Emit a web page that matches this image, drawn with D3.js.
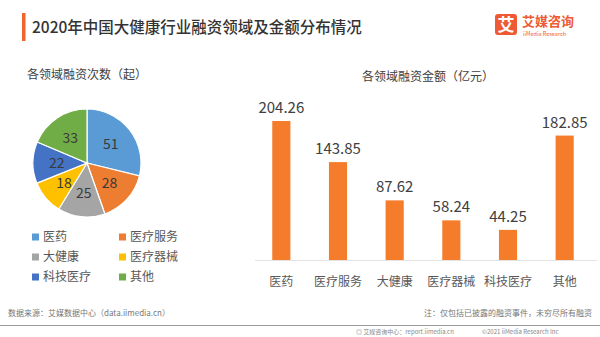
<!DOCTYPE html>
<html>
<head>
<meta charset="utf-8">
<script src="https://cdn.jsdelivr.net/npm/d3@7/dist/d3.min.js"></script>
<style>
  html, body { margin: 0; padding: 0; background: #fff; }
  svg { display: block; font-family: "Noto Sans CJK SC", "Noto Sans", sans-serif; }
</style>
</head>
<body>
<svg id="chart" width="600" height="337"></svg>
<script>
// Financing counts by field (pie)
const pieCategories = ["医药", "医疗服务", "大健康", "医疗器械", "科技医疗", "其他"];
const pieCounts = [51, 28, 25, 18, 22, 33];
const pieColors = ["#5B9BD5", "#ED7D31", "#A5A5A5", "#FFC000", "#4472C4", "#70AD47"];

// Financing amount by field, 100 million yuan (bars)
const barCategories = ["医药", "医疗服务", "大健康", "医疗器械", "科技医疗", "其他"];
const barAmounts = [204.26, 143.85, 87.62, 58.24, 44.25, 182.85];

const svg = d3.select("#chart");

// Header
svg.append("rect").attr("x", 22).attr("y", 13).attr("width", 3.5).attr("height", 28).attr("fill", "#F0642D");
svg.append("text").attr("x", 32).attr("y", 33)
  .attr("font-size", 15.5).attr("fill", "#333").attr("font-weight", 500)
  .text("2020年中国大健康行业融资领域及金额分布情况");

// Brand mark
const logo = svg.append("g");
logo.append("rect").attr("x", 495).attr("y", 14).attr("width", 22).attr("height", 21).attr("rx", 3).attr("fill", "#EE5A35");
logo.append("text").attr("x", 506).attr("y", 30.5).attr("text-anchor", "middle")
  .attr("font-size", 17).attr("font-weight", 700).attr("fill", "#fff").text("艾");
logo.append("text").attr("x", 522).attr("y", 26)
  .attr("font-size", 13).attr("font-weight", 700).attr("fill", "#EE5A35").text("艾媒咨询");
logo.append("text").attr("x", 523).attr("y", 36)
  .attr("font-size", 5.5).attr("fill", "#EE5A35").text("iiMedia Research");

// Pie chart
svg.append("text").attr("x", 87).attr("y", 79).attr("text-anchor", "middle")
  .attr("font-size", 12).attr("fill", "#404040").text("各领域融资次数（起）");

const pieData = d3.pie().sort(null)(pieCounts);
const radius = 54;
const arc = d3.arc().innerRadius(0).outerRadius(radius);
const labelArc = d3.arc().innerRadius(radius * 0.56).outerRadius(radius * 0.56);
const pieG = svg.append("g").attr("transform", "translate(87,163)");
pieG.selectAll("path").data(pieData).join("path")
  .attr("d", arc)
  .attr("fill", (d, i) => pieColors[i])
  .attr("stroke", "#fff").attr("stroke-width", 1.2);
pieG.selectAll("text").data(pieData).join("text")
  .attr("transform", d => `translate(${labelArc.centroid(d)})`)
  .attr("text-anchor", "middle").attr("dy", "0.36em")
  .attr("font-size", 14).attr("fill", "#3a3a3a")
  .text(d => d.data);

// Legend
const legend = svg.append("g");
pieCategories.forEach((name, i) => {
  const col = i % 2, row = Math.floor(i / 2);
  const x = 32 + col * 87, y = 237 + row * 20;
  legend.append("rect").attr("x", x).attr("y", y - 3.5).attr("width", 7).attr("height", 7).attr("fill", pieColors[i]);
  legend.append("text").attr("x", x + 11).attr("y", y).attr("dy", "0.35em")
    .attr("font-size", 12).attr("fill", "#595959").text(name);
});

// Bar chart
svg.append("text").attr("x", 428).attr("y", 81).attr("text-anchor", "middle")
  .attr("font-size", 12).attr("fill", "#404040").text("各领域融资金额（亿元）");

const x = d3.scaleBand().domain(barCategories).range([253, 593]).paddingInner(0.68).paddingOuter(0.34);
const y = d3.scaleLinear().domain([0, 204.26]).range([260, 121]);

svg.append("line").attr("x1", 255).attr("x2", 597).attr("y1", 260.5).attr("y2", 260.5)
  .attr("stroke", "#e3e3e3");

svg.selectAll("rect.bar").data(barAmounts).join("rect").attr("class", "bar")
  .attr("x", (d, i) => x(barCategories[i]))
  .attr("width", x.bandwidth())
  .attr("y", d => y(d))
  .attr("height", d => y(0) - y(d))
  .attr("fill", "#F47C2A");

svg.selectAll("text.val").data(barAmounts).join("text").attr("class", "val")
  .attr("x", (d, i) => x(barCategories[i]) + x.bandwidth() / 2)
  .attr("y", d => y(d) - 8)
  .attr("text-anchor", "middle").attr("font-size", 15).attr("fill", "#404040")
  .text(d => d.toFixed(2));

const xAxis = svg.append("g").attr("transform", "translate(0,260)")
  .call(d3.axisBottom(x).tickSize(0).tickPadding(17));
xAxis.select(".domain").remove();
xAxis.selectAll("text").attr("font-size", 12).attr("fill", "#595959")
  .attr("font-family", "Noto Sans CJK SC, sans-serif");

// Footer
svg.append("text").attr("x", 8).attr("y", 316).attr("font-size", 8).attr("fill", "#777")
  .text("数据来源：艾媒数据中心（data.iimedia.cn）");
svg.append("text").attr("x", 592).attr("y", 316).attr("text-anchor", "end").attr("font-size", 8).attr("fill", "#777")
  .text("注：仅包括已披露的融资事件，未穷尽所有融资");
svg.append("line").attr("x1", 0).attr("x2", 600).attr("y1", 325.5).attr("y2", 325.5)
  .attr("stroke", "#9a9a9a").attr("stroke-width", 1);
svg.append("text").attr("x", 356).attr("y", 334).attr("font-size", 6).attr("fill", "#888")
  .text("◎ 艾媒咨询中心：report.iimedia.cn");
svg.append("text").attr("x", 482).attr("y", 334).attr("font-size", 6).attr("fill", "#888")
  .text("©2021  iiMedia Research  Inc");
</script>
</body>
</html>
